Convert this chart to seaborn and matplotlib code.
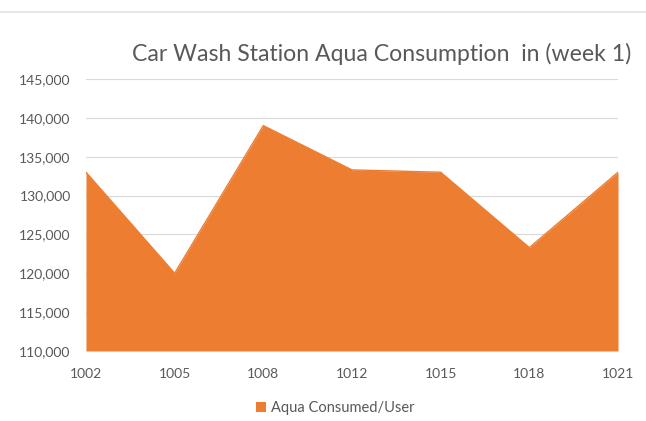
import matplotlib
matplotlib.use("Agg")
import matplotlib.pyplot as plt
import matplotlib.ticker as mticker
from matplotlib.lines import Line2D
from matplotlib.patches import Patch
import seaborn as sns
import pandas as pd

stations = ["1002", "1005", "1008", "1012", "1015", "1018", "1021"]
consumption = [133000, 120000, 139000, 133300, 133000, 123300, 133000]
series_name = "Aqua Consumed/User"
title = "Car Wash Station Aqua Consumption  in (week 1)"

ORANGE = "#ED7D31"
TEXT = "#595959"
GRID = "#D9D9D9"

sns.set_theme(style="white")
plt.rcParams["font.family"] = ["Lato", "DejaVu Sans"]

df = pd.DataFrame({"station": stations, "value": consumption})
df["pos"] = range(len(df))

fig = plt.figure(figsize=(6.46, 4.21), dpi=100)
ax = fig.add_axes([0.1331, 0.1663, 0.8236, 0.6461])

sns.lineplot(data=df, x="pos", y="value", color=ORANGE, linewidth=1.0, ax=ax, zorder=3)
ax.fill_between(df["pos"], df["value"], 110000, color=ORANGE, linewidth=0, zorder=2)

ax.set_xlim(0, len(df) - 1)
ax.set_ylim(110000, 145000)
ax.set_xticks(df["pos"])
ax.set_xticklabels(df["station"])
ax.yaxis.set_major_locator(mticker.MultipleLocator(5000))
ax.yaxis.set_major_formatter(mticker.StrMethodFormatter("{x:,.0f}"))
ax.tick_params(axis="both", colors=TEXT, labelsize=10, length=0)
ax.tick_params(axis="x", pad=12)
ax.tick_params(axis="y", pad=11)
ax.set_xlabel("")
ax.set_ylabel("")
ax.grid(axis="y", color=GRID, linewidth=0.8, zorder=0)
ax.set_axisbelow(True)
for s in ax.spines.values():
    s.set_visible(False)

fig.text(0.59, 0.872, title, ha="center", va="center", fontsize=16.6, color=TEXT)

# chart frame edge along the top
fig.add_artist(Line2D([0.0, 1.0], [0.972, 0.972], color="#E3E3E3", linewidth=1.2,
                      transform=fig.transFigure))

handles = [Patch(facecolor=ORANGE, edgecolor="none", label=series_name)]
fig.legend(handles=handles, loc="center", bbox_to_anchor=(0.519, 0.031), frameon=False,
           fontsize=10.5, labelcolor=TEXT, handlelength=0.7, handleheight=0.7,
           handletextpad=0.3)

fig.savefig("out.png", dpi=100)
